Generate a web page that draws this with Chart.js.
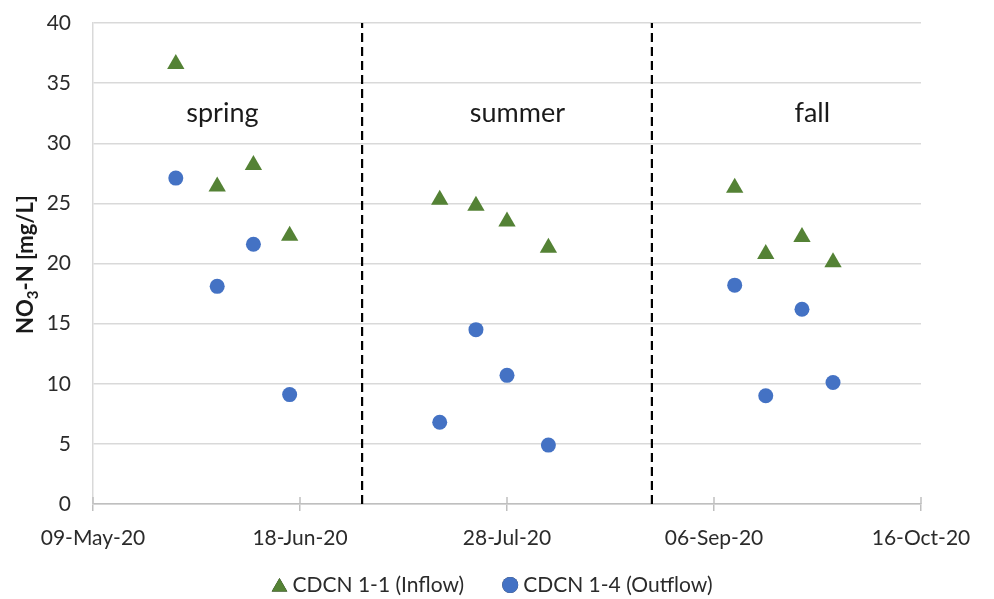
<!DOCTYPE html>
<html>
<head>
<meta charset="utf-8">
<script src="https://cdn.jsdelivr.net/npm/chart.js@4.4.1/dist/chart.umd.min.js"></script>
<style>
  html, body { margin: 0; padding: 0; background: #ffffff; }
  #wrap { width: 994px; height: 599px; }
</style>
</head>
<body>
<div id="wrap"><canvas id="chart"></canvas></div>
<script>
// Sampling dates (one per sampling event, both monitoring points share them)
const sampleDates = [
  '2020-05-25', '2020-06-02', '2020-06-09', '2020-06-16',
  '2020-07-15', '2020-07-22', '2020-07-28', '2020-08-05',
  '2020-09-10', '2020-09-16', '2020-09-23', '2020-09-29'
];
// NO3-N concentrations, mg/L
const inflowValues  = [36.6, 26.4, 28.2, 22.3, 25.3, 24.8, 23.5, 21.3, 26.3, 20.8, 22.2, 20.1];
const outflowValues = [27.1, 18.1, 21.6,  9.1,  6.8, 14.5, 10.7,  4.9, 18.2,  9.0, 16.2, 10.1];

const seriesNames = ['CDCN 1-1 (Inflow)', 'CDCN 1-4 (Outflow)'];

// Season boundaries and labels
const seasonBoundaries = ['2020-06-30', '2020-08-25'];
const seasonNames = ['spring', 'summer', 'fall'];
const seasonLabelDates = ['2020-06-03', '2020-07-30', '2020-09-25'];
const seasonLabelLevel = 32.5;

// Axis settings
const axisStartDate = '2020-05-09';
const axisEndDate = '2020-10-16';
const xStepDays = 40;
const yMin = 0, yMax = 40, yStep = 5;
const yTitleParts = ['NO', '3', '-N [mg/L]'];

const MONTHS = ['Jan','Feb','Mar','Apr','May','Jun','Jul','Aug','Sep','Oct','Nov','Dec'];
const DAY_MS = 86400000;
function toUTC(s) { const [y, m, d] = s.split('-').map(Number); return Date.UTC(y, m - 1, d); }
const origin = toUTC(axisStartDate);
const dayOf = s => (toUTC(s) - origin) / DAY_MS;
function formatDay(day) {
  const dt = new Date(origin + day * DAY_MS);
  return String(dt.getUTCDate()).padStart(2, '0') + '-' + MONTHS[dt.getUTCMonth()] + '-' + String(dt.getUTCFullYear()).slice(2);
}

const FONT = 'Lato';
const TEXT = '#2b2b2b';
const GREEN = '#548235';
const BLUE = '#4472C4';

const inflowData = sampleDates.map((d, i) => ({ x: dayOf(d), y: inflowValues[i] }));
const outflowData = sampleDates.map((d, i) => ({ x: dayOf(d), y: outflowValues[i] }));

const boundarySets = seasonBoundaries.map(d => ({
  type: 'line',
  data: [{ x: dayOf(d), y: yMin }, { x: dayOf(d), y: yMax }],
  borderColor: '#000000',
  borderWidth: 2.2,
  borderDash: [9, 5],
  pointRadius: 0,
  fill: false,
  inLegend: false
}));

// Season names written inside each period
const seasonLabels = {
  id: 'seasonLabels',
  afterDatasetsDraw(chart) {
    const { ctx, scales: { x, y } } = chart;
    ctx.save();
    ctx.font = '27px ' + FONT;
    ctx.fillStyle = '#1a1a1a';
    ctx.textAlign = 'center';
    ctx.textBaseline = 'middle';
    seasonNames.forEach((name, i) => {
      ctx.fillText(name, x.getPixelForValue(dayOf(seasonLabelDates[i])), y.getPixelForValue(seasonLabelLevel));
    });
    ctx.restore();
  }
};

// Y-axis title with a subscript
const yTitle = {
  id: 'yTitle',
  afterDraw(chart) {
    const { ctx, chartArea } = chart;
    const mainFont = 'bold 22px ' + FONT;
    const subFont = 'bold 15px ' + FONT;
    ctx.save();
    ctx.fillStyle = '#1a1a1a';
    ctx.textBaseline = 'alphabetic';
    ctx.font = mainFont; const w0 = ctx.measureText(yTitleParts[0]).width;
    ctx.font = subFont;  const w1 = ctx.measureText(yTitleParts[1]).width;
    ctx.font = mainFont; const w2 = ctx.measureText(yTitleParts[2]).width;
    const total = w0 + w1 + w2;
    ctx.translate(33, (chartArea.top + chartArea.bottom) / 2 + 1);
    ctx.rotate(-Math.PI / 2);
    let cx = -total / 2;
    ctx.font = mainFont; ctx.fillText(yTitleParts[0], cx, 0); cx += w0;
    ctx.font = subFont;  ctx.fillText(yTitleParts[1], cx, 5); cx += w1;
    ctx.font = mainFont; ctx.fillText(yTitleParts[2], cx, 0);
    ctx.restore();
  }
};

// Cross-style tick marks on the date axis (upper half; the lower half comes from the scale)
const crossTicks = {
  id: 'crossTicks',
  afterDatasetsDraw(chart) {
    const { ctx, scales: { x } } = chart;
    ctx.save();
    ctx.strokeStyle = '#bfbfbf';
    ctx.lineWidth = 1.5;
    x.ticks.forEach((t, i) => {
      const px = x.getPixelForTick(i);
      ctx.beginPath();
      ctx.moveTo(px, x.top - 7);
      ctx.lineTo(px, x.top);
      ctx.stroke();
    });
    ctx.restore();
  }
};

// Legend under the chart, built from the scatter datasets
const bottomLegend = {
  id: 'bottomLegend',
  afterDraw(chart) {
    const { ctx } = chart;
    const items = chart.data.datasets.filter(ds => ds.inLegend);
    const font = '21px ' + FONT;
    const markerW = 16, textGap = 5, itemGap = 38;
    ctx.save();
    ctx.font = font;
    const widths = items.map(ds => markerW + textGap + ctx.measureText(ds.label).width);
    const total = widths.reduce((a, b) => a + b, 0) + itemGap * (items.length - 1);
    let x0 = (chart.width - total) / 2 - 5;
    const yc = 585;
    items.forEach((ds, i) => {
      Chart.helpers.drawPoint(ctx, {
        pointStyle: ds.pointStyle,
        radius: ds.pointStyle === 'triangle' ? 9 : 8,
        borderWidth: 0,
        rotation: 0
      }, x0 + markerW / 2, ds.pointStyle === 'triangle' ? yc + 2 : yc);
      ctx.fillStyle = ds.backgroundColor;
      ctx.fill();
      ctx.fillStyle = TEXT;
      ctx.textBaseline = 'middle';
      ctx.textAlign = 'left';
      ctx.fillText(ds.label, x0 + markerW + textGap, yc);
      x0 += widths[i] + itemGap;
    });
    ctx.restore();
  }
};

new Chart(document.getElementById('chart'), {
  type: 'scatter',
  data: {
    datasets: [
      {
        label: seriesNames[0],
        data: inflowData,
        pointStyle: 'triangle',
        pointRadius: 10,
        pointHoverRadius: 10,
        backgroundColor: GREEN,
        borderColor: GREEN,
        borderWidth: 0,
        inLegend: true
      },
      {
        label: seriesNames[1],
        data: outflowData,
        pointStyle: 'circle',
        pointRadius: 7.5,
        pointHoverRadius: 7.5,
        backgroundColor: BLUE,
        borderColor: BLUE,
        borderWidth: 0,
        inLegend: true
      },
      ...boundarySets
    ]
  },
  options: {
    responsive: true,
    maintainAspectRatio: false,
    animation: false,
    layout: { padding: { left: 0, right: 73, top: 23, bottom: 0 } },
    plugins: {
      legend: { display: false },
      tooltip: { enabled: false }
    },
    scales: {
      x: {
        type: 'linear',
        min: 0,
        max: dayOf(axisEndDate),
        afterFit(scale) { scale.height = 95; },
        afterBuildTicks(scale) {
          const ticks = [];
          for (let v = 0; v <= dayOf(axisEndDate); v += xStepDays) ticks.push({ value: v });
          scale.ticks = ticks;
        },
        ticks: {
          callback: v => formatDay(v),
          font: { family: FONT, size: 21 },
          color: TEXT,
          padding: 15,
          maxRotation: 0,
          autoSkip: false
        },
        grid: {
          drawOnChartArea: false,
          color: '#bfbfbf',
          lineWidth: 1.5,
          tickLength: 7
        },
        border: { color: '#bfbfbf', width: 1.5 }
      },
      y: {
        min: yMin,
        max: yMax,
        afterFit(scale) {
          scale.width = 93;
          scale.paddingTop = 0;
          scale.paddingBottom = 0;
        },
        ticks: {
          stepSize: yStep,
          font: { family: FONT, size: 21 },
          color: TEXT,
          padding: 22
        },
        grid: {
          color: '#d9d9d9',
          lineWidth: 1.5,
          drawTicks: false
        },
        border: { color: '#d9d9d9', width: 1.5 }
      }
    }
  },
  plugins: [seasonLabels, yTitle, crossTicks, bottomLegend]
});
</script>
</body>
</html>
